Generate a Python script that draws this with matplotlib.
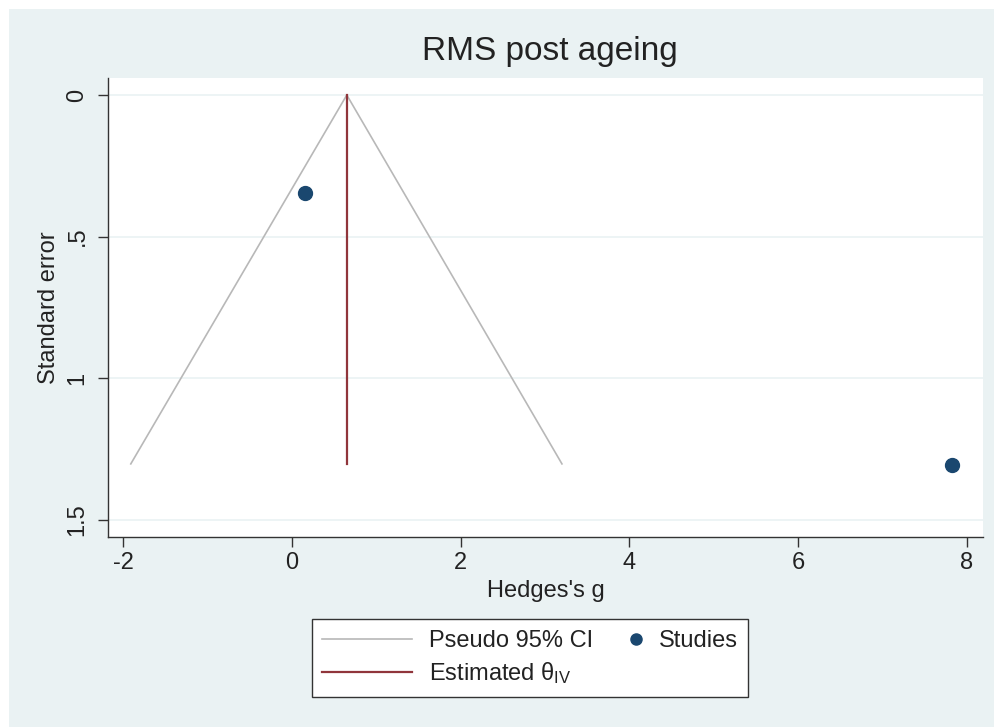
#!/usr/bin/env python3
"""Funnel plot: RMS post ageing (Stata-style)."""

import matplotlib
matplotlib.use("Agg")
import matplotlib.pyplot as plt
import matplotlib.patches as mpatches
from matplotlib.lines import Line2D
from matplotlib.legend_handler import HandlerLine2D

plt.rcParams["font.family"] = ["Liberation Sans", "DejaVu Sans"]
plt.rcParams["mathtext.fontset"] = "custom"
plt.rcParams["mathtext.rm"] = "Liberation Sans"
plt.rcParams["mathtext.it"] = "Liberation Sans"

# 数据
study_g = [0.154, 7.82]
study_se = [0.345, 1.305]
theta_iv = 0.65
ci_x = [-1.91, 0.65, 3.20]
ci_y = [1.302, 0.0, 1.302]
est_y = [0.0, 1.302]

xticks = [-2, 0, 2, 4, 6, 8]
yticks = [0, 0.5, 1, 1.5]
ytick_labels = ["0", ".5", "1", "1.5"]

BG = "#eaf2f3"
NAVY = "#1a476f"
MAROON = "#90353b"
GRAY = "#b8b8b8"
TXT = "#222222"


class RightMarker(HandlerLine2D):
    # 标记画在图例句柄的右端
    def get_xdata(self, legend, xdescent, ydescent, width, height, fontsize):
        x = width - xdescent - 4
        return [x, x], [x]


fig = plt.figure(figsize=(9.95, 7.27), dpi=100)
fig.patch.set_facecolor("white")
fig.patches.append(mpatches.Rectangle((9 / 995, 0), 1, (727 - 9) / 727,
                                      transform=fig.transFigure,
                                      facecolor=BG, edgecolor="none", zorder=-10))

ax = fig.add_axes([108 / 995, (727 - 537) / 727, 875 / 995, 459 / 727])
ax.set_facecolor("white")

for y in yticks:
    ax.axhline(y, color=BG, lw=1.2, zorder=0)

ax.plot(ci_x, ci_y, color=GRAY, lw=1.2, zorder=2)
ax.plot([theta_iv, theta_iv], est_y, color=MAROON, lw=1.6, zorder=3)
ax.plot(study_g, study_se, "o", color=NAVY, ms=10, zorder=4)

ax.set_xlim(-2.18, 8.19)
ax.set_ylim(1.56, -0.06)
ax.set_xticks(xticks)
ax.set_xticklabels([str(t) for t in xticks], fontsize=17, color=TXT)
ax.set_yticks(yticks)
ax.set_yticklabels(ytick_labels, fontsize=17, color=TXT, rotation=90, va="center")
ax.tick_params(axis="x", direction="out", length=7, width=1, color="#333333", pad=4)
ax.tick_params(axis="y", direction="out", length=7, width=1, color="#333333", pad=7)

for s in ["top", "right"]:
    ax.spines[s].set_visible(False)
for s in ["left", "bottom"]:
    ax.spines[s].set_color("#333333")
    ax.spines[s].set_linewidth(1)

ax.set_xlabel("Hedges's g", fontsize=17, color=TXT, labelpad=4)
ax.set_ylabel("Standard error", fontsize=17, color=TXT, labelpad=5)

fig.text(550 / 995, (727 - 60) / 727, "RMS post ageing", fontsize=24,
         color=TXT, ha="center", va="baseline")

h_ci = Line2D([], [], color=GRAY, lw=1.2)
h_est = Line2D([], [], color=MAROON, lw=1.6)
h_st = Line2D([], [], color=NAVY, marker="o", ls="none", ms=8)
leg = fig.legend([h_ci, h_est, h_st],
                 ["Pseudo 95% CI", r"Estimated θ$_{\mathrm{IV}}$", "Studies"],
                 handler_map={h_st: RightMarker()},
                 loc="center", bbox_to_anchor=(530 / 995, (727 - 658) / 727),
                 ncol=2, fontsize=17, handlelength=3.77, handletextpad=0.72,
                 columnspacing=-1.7, labelspacing=0.35, borderpad=0.45,
                 fancybox=False, framealpha=1, edgecolor="#333333")
leg.get_frame().set_linewidth(1)
for t in leg.get_texts():
    t.set_color(TXT)

fig.savefig("out.png", dpi=100)
